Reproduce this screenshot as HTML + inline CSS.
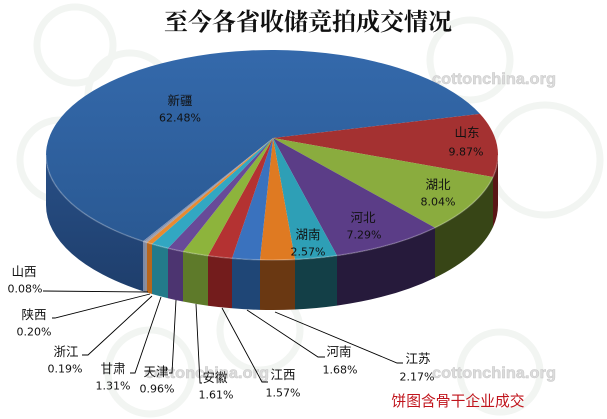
<!DOCTYPE html>
<html><head><meta charset="utf-8"><style>
html,body{margin:0;padding:0;background:#fff;width:607px;height:419px;overflow:hidden;}
svg{display:block;overflow:hidden;}
.t{font-family:"Liberation Sans","Noto Sans CJK SC",sans-serif;font-size:12.5px;fill:#111;}
.p{font-family:"DejaVu Sans","Liberation Sans",sans-serif;font-size:11px;fill:#111;}
</style></head><body>
<svg width="607" height="419" viewBox="0 0 607 419" xmlns="http://www.w3.org/2000/svg">
<defs>
<linearGradient id="gb" x1="0" y1="0" x2="0" y2="1"><stop offset="0" stop-color="#3469ab"/><stop offset="1" stop-color="#2a5993"/></linearGradient>
<linearGradient id="sb" x1="0" y1="0" x2="0" y2="1"><stop offset="0" stop-color="#284f86"/><stop offset="1" stop-color="#1e3e6c"/></linearGradient>
</defs>
<!-- watermark rings -->
<g fill="none" stroke="#f2f5f2" stroke-width="7">
<circle cx="75" cy="45" r="38"/><circle cx="130" cy="95" r="42"/><circle cx="60" cy="160" r="40"/>
<circle cx="545" cy="160" r="55"/><circle cx="470" cy="60" r="40"/>
<circle cx="150" cy="372" r="42"/><circle cx="260" cy="330" r="40"/><circle cx="500" cy="372" r="40"/>
</g>
<text x="308" y="30" text-anchor="middle" font-family="'Liberation Serif','Noto Serif CJK SC',serif" font-weight="bold" font-size="24" fill="#111">至今各省收储竞拍成交情况</text>
<g font-family="'Liberation Sans',sans-serif" font-weight="bold" font-size="16" fill="#dcdcdc" stroke="#c8c8c8" stroke-width="0.5">
<text x="432" y="84" textLength="124" lengthAdjust="spacingAndGlyphs">cottonchina.org</text>
<text x="432" y="378" textLength="124" lengthAdjust="spacingAndGlyphs">cottonchina.org</text>
<text x="145" y="378" textLength="124" lengthAdjust="spacingAndGlyphs">cottonchina.org</text>
</g>
<!-- sides -->
<g>
<path d="M143 241.2 A226 105 0 0 1 46 155 L46 205 A226 105 0 0 0 143 291.2Z" fill="url(#sb)"/>
<path d="M145 241.8 A226 105 0 0 1 143 241.2 L143 291.2 A226 105 0 0 0 145 291.8Z" fill="#7c8aa6"/>
<path d="M147 242.5 A226 105 0 0 1 145 241.8 L145 291.8 A226 105 0 0 0 147 292.5Z" fill="#8e8e9a"/>
<path d="M152 244 A226 105 0 0 1 147 242.5 L147 292.5 A226 105 0 0 0 152 294Z" fill="#b8661c"/>
<path d="M168 248.2 A226 105 0 0 1 152 244 L152 294 A226 105 0 0 0 168 298.2Z" fill="#237a8a"/>
<path d="M183 251.5 A226 105 0 0 1 168 248.2 L168 298.2 A226 105 0 0 0 183 301.5Z" fill="#4c3470"/>
<path d="M208 255.7 A226 105 0 0 1 183 251.5 L183 301.5 A226 105 0 0 0 208 305.7Z" fill="#5e7a2a"/>
<path d="M232 258.3 A226 105 0 0 1 208 255.7 L208 305.7 A226 105 0 0 0 232 308.3Z" fill="#731c1c"/>
<path d="M260 259.85 A226 105 0 0 1 232 258.3 L232 308.3 A226 105 0 0 0 260 309.85Z" fill="#1f4676"/>
<path d="M295 259.5 A226 105 0 0 1 260 259.85 L260 309.85 A226 105 0 0 0 295 309.5Z" fill="#6a3812"/>
<path d="M337 255.6 A226 105 0 0 1 295 259.5 L295 309.5 A226 105 0 0 0 337 305.6Z" fill="#133f47"/>
<path d="M435 227.7 A226 105 0 0 1 337 255.6 L337 305.6 A226 105 0 0 0 435 277.7Z" fill="#261a3b"/>
<path d="M493 177 A226 105 0 0 1 435 227.7 L435 277.7 A226 105 0 0 0 493 227Z" fill="#374516"/>
<path d="M498 155 A226 105 0 0 1 493 177 L493 227 A226 105 0 0 0 498 205Z" fill="#5a1616"/>
</g>
<!-- tops -->
<g>
<path d="M273 138 L143 241.2 A226 105 0 1 1 480 113.9Z" fill="url(#gb)"/>
<path d="M273 138 L480 113.9 A226 105 0 0 1 493 177Z" fill="#a43131"/>
<path d="M273 138 L493 177 A226 105 0 0 1 435 227.7Z" fill="#8aac3e"/>
<path d="M273 138 L435 227.7 A226 105 0 0 1 337 255.6Z" fill="#5b3d87"/>
<path d="M273 138 L337 255.6 A226 105 0 0 1 295 259.5Z" fill="#2e9fb6"/>
<path d="M273 138 L295 259.5 A226 105 0 0 1 260 259.85Z" fill="#df7a22"/>
<path d="M273 138 L260 259.85 A226 105 0 0 1 232 258.3Z" fill="#3a72be"/>
<path d="M273 138 L232 258.3 A226 105 0 0 1 208 255.7Z" fill="#b43232"/>
<path d="M273 138 L208 255.7 A226 105 0 0 1 183 251.5Z" fill="#8db43c"/>
<path d="M273 138 L183 251.5 A226 105 0 0 1 168 248.2Z" fill="#684a98"/>
<path d="M273 138 L168 248.2 A226 105 0 0 1 152 244Z" fill="#32a7c2"/>
<path d="M273 138 L152 244 A226 105 0 0 1 147 242.5Z" fill="#e88a30"/>
<path d="M273 138 L147 242.5 A226 105 0 0 1 145 241.8Z" fill="#a0a0ac"/>
<path d="M273 138 L145 241.8 A226 105 0 0 1 143 241.2Z" fill="#8090b0"/>
<path d="M46 155 A226 105 0 0 0 498 155" fill="none" stroke="#ffffff" stroke-opacity="0.22" stroke-width="1.5"/>
</g>
<!-- leader lines -->
<g fill="none" stroke="#000" stroke-width="0.9">
<polyline points="148,292 43,291"/>
<polyline points="150,294 55,318 52,318"/>
<polyline points="152,296 88,355 82,355"/>
<polyline points="161,297 135,373 130,373"/>
<polyline points="176,300 172,373 169,373"/>
<polyline points="196,304 200,383 202,383"/>
<polyline points="222,308 262,382 268,382"/>
<polyline points="247,310 318,357 325,357"/>
<polyline points="275,312 397,363 403,363"/>
</g>
<!-- labels -->
<g text-anchor="middle" dominant-baseline="central">
<text class="t" x="180" y="101">新疆</text><text class="p" x="180" y="118">62.48%</text>
<text class="t" x="467" y="133">山东</text><text class="p" x="466" y="152">9.87%</text>
<text class="t" x="438" y="185">湖北</text><text class="p" x="438" y="202">8.04%</text>
<text class="t" x="363" y="218">河北</text><text class="p" x="364" y="235">7.29%</text>
<text class="t" x="308" y="235">湖南</text><text class="p" x="308" y="252">2.57%</text>
<text class="t" x="24" y="272">山西</text><text class="p" x="25" y="289">0.08%</text>
<text class="t" x="34" y="315">陕西</text><text class="p" x="34" y="332">0.20%</text>
<text class="t" x="66" y="352">浙江</text><text class="p" x="65" y="369">0.19%</text>
<text class="t" x="113" y="369">甘肃</text><text class="p" x="113" y="386">1.31%</text>
<text class="t" x="156" y="372">天津</text><text class="p" x="157" y="389">0.96%</text>
<text class="t" x="215" y="378">安徽</text><text class="p" x="216" y="395">1.61%</text>
<text class="t" x="283" y="375">江西</text><text class="p" x="283" y="393">1.57%</text>
<text class="t" x="339" y="352">河南</text><text class="p" x="340" y="370">1.68%</text>
<text class="t" x="418" y="359">江苏</text><text class="p" x="417" y="377">2.17%</text>
<text x="458" y="402" font-family="'Liberation Sans','Noto Sans CJK SC',sans-serif" font-size="14.8" fill="#c0141c">饼图含骨干企业成交</text>
</g>
</svg>
</body></html>
